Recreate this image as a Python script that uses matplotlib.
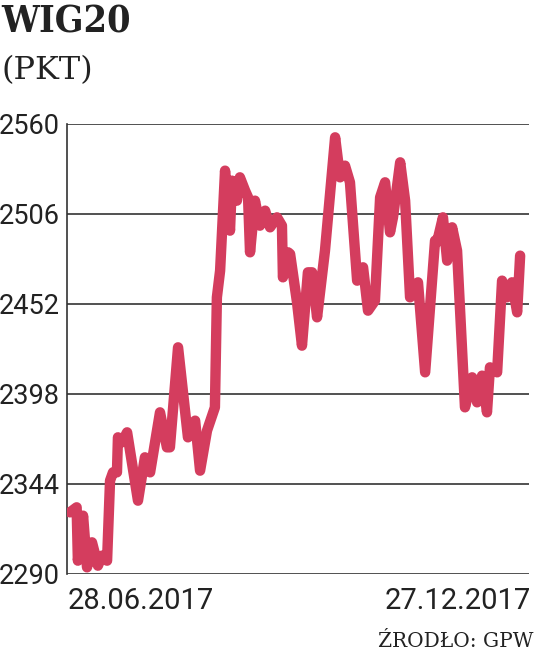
import matplotlib.pyplot as plt

# WIG20, 28.06.2017 - 27.12.2017 (days since start, index value)
days = [0, 2.7, 3.2, 5.3, 6.9, 8.9, 11.3, 12.9, 15.0, 16.2, 17.4, 19.0, 19.4, 21.0,
        23.1, 27.5, 30.3, 32.4, 36.4, 39.2, 40.4, 43.7, 47.7, 50.6, 52.6, 55.4,
        58.6, 59.4, 60.7, 62.7, 64.7, 65.5, 67.5, 68.7, 70.8, 72.0, 72.8, 74.8,
        76.8, 78.9, 80.9, 83.7, 85.7, 86.1, 88.2, 89.0, 91.8, 93.8, 96.2, 97.9,
        99.9, 103.1, 107.2, 109.2, 111.2, 113.2, 116.1, 118.5, 120.5, 123.3,
        125.4, 127.4, 129.4, 130.6, 133.5, 135.5, 137.5, 140.7, 143.6, 147.6,
        148.4, 150.8, 152.5, 154.5, 156.5, 159.7, 162.6, 164.6, 166.6, 168.6,
        169.8, 172.7, 174.7, 176.7, 178.7, 180.8, 182.0]
wig20 = [2327, 2330, 2298, 2325, 2294, 2309, 2295, 2301, 2298, 2346, 2351, 2351, 2372,
         2369, 2375, 2334, 2360, 2351, 2387, 2366, 2366, 2426, 2372, 2382, 2352, 2376,
         2390, 2456, 2472, 2532, 2496, 2526, 2514, 2528, 2520, 2516, 2483, 2514,
         2499, 2508, 2498, 2504, 2499, 2468, 2483, 2482, 2453, 2427, 2471, 2471,
         2444, 2484, 2552, 2528, 2535, 2525, 2466, 2474, 2448, 2454,
         2516, 2525, 2495, 2504, 2537, 2514, 2456, 2465, 2411, 2490,
         2489, 2504, 2478, 2498, 2484, 2390, 2408, 2393, 2409, 2387,
         2414, 2411, 2466, 2456, 2465, 2447, 2481]
yticks = [2290, 2344, 2398, 2452, 2506, 2560]
start_label = '28.06.2017'
end_label = '27.12.2017'

narrow = ['Liberation Sans Narrow', 'Roboto', 'DejaVu Sans']
serif = ['DejaVu Serif', 'Liberation Serif']

fig = plt.figure(figsize=(5.36, 6.56), dpi=100)
ax = fig.add_axes([0.125, 0.125, 0.862, 0.686])

for y in yticks:
    ax.axhline(y, color='#333333', lw=1.2, zorder=1)
ax.plot(days, wig20, color='#d43d5e', lw=7.5, solid_joinstyle='round',
        solid_capstyle='round', zorder=3)

ax.set_xlim(-1.2, 185.6)
ax.set_ylim(2290, 2560)
ax.set_yticks(yticks)
ax.set_yticklabels([str(t) for t in yticks], family=narrow, fontsize=19.5, color='#222222')
ax.tick_params(axis='y', length=0, pad=5)
ax.set_xticks([])
for s in ['top', 'right', 'bottom']:
    ax.spines[s].set_visible(False)
ax.spines['left'].set_color('#333333')
ax.spines['left'].set_linewidth(1.2)

fig.text(0.127, 0.084, start_label, family=narrow, fontsize=21, color='#222222',
         ha='left', va='center')
fig.text(0.99, 0.084, end_label, family=narrow, fontsize=21, color='#222222',
         ha='right', va='center')

fig.text(0.003, 0.995, 'WIG20', family=serif, fontweight='bold', fontsize=27,
         fontstretch='condensed', color='#222222', ha='left', va='top')
fig.text(0.003, 0.893, '(PKT)', family=serif, fontsize=23, color='#222222',
         ha='left', va='center')
fig.text(0.995, 0.022, 'ŹRODŁO: GPW', family=serif, fontsize=14.5, color='#222222',
         ha='right', va='center')

fig.savefig('out.png', dpi=100, facecolor='white')
